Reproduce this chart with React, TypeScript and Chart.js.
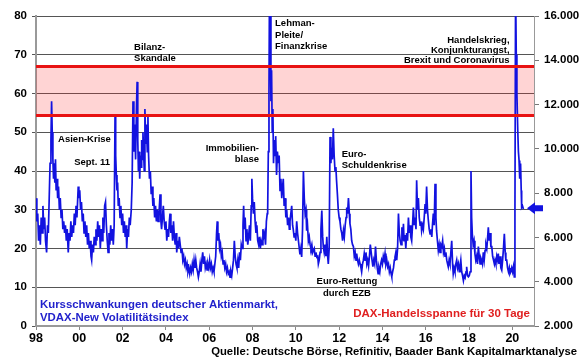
import { useEffect, useRef } from "react";
import { Chart, registerables } from "chart.js";
Chart.register(...registerables);

// VDAX-New readings [year, value]
const VDAX_1998_2002: [number, number][] = [
  [1998.0, 33], [1998.04, 27], [1998.08, 29], [1998.12, 22], [1998.16, 26], [1998.2, 21], [1998.24, 28], [1998.28, 24],
  [1998.32, 31], [1998.36, 25], [1998.4, 28], [1998.44, 22], [1998.49, 19], [1998.53, 26], [1998.57, 24], [1998.61, 33],
  [1998.65, 42], [1998.69, 48], [1998.72, 58], [1998.75, 50], [1998.78, 43], [1998.81, 38], [1998.84, 42], [1998.87, 37],
  [1998.9, 43], [1998.93, 35], [1998.97, 38], [1999.0, 33], [1999.04, 36], [1999.08, 30], [1999.12, 33], [1999.16, 28],
  [1999.2, 30], [1999.24, 25], [1999.28, 27], [1999.32, 24], [1999.36, 26], [1999.4, 22], [1999.44, 25], [1999.49, 19],
  [1999.53, 24], [1999.57, 22], [1999.61, 27], [1999.65, 23], [1999.69, 26], [1999.73, 24], [1999.77, 29], [1999.81, 26],
  [1999.85, 31], [1999.89, 28], [1999.95, 36], [1999.98, 33], [2000.02, 35], [2000.06, 30], [2000.1, 32], [2000.14, 27],
  [2000.18, 29], [2000.22, 24], [2000.26, 27], [2000.3, 23], [2000.34, 26], [2000.38, 21], [2000.42, 24], [2000.46, 20],
  [2000.5, 22], [2000.54, 18], [2000.57, 17], [2000.61, 21], [2000.65, 19], [2000.69, 23], [2000.73, 21], [2000.77, 25],
  [2000.81, 22], [2000.85, 27], [2000.89, 23], [2000.93, 26], [2000.97, 20], [2001.01, 25], [2001.05, 22], [2001.09, 28],
  [2001.13, 24], [2001.17, 31], [2001.21, 32], [2001.25, 26], [2001.29, 22], [2001.33, 19], [2001.37, 24], [2001.41, 21],
  [2001.45, 26], [2001.49, 22], [2001.53, 25], [2001.57, 21], [2001.61, 26], [2001.65, 54], [2001.68, 44], [2001.71, 39],
  [2001.74, 35], [2001.77, 37], [2001.8, 31], [2001.84, 33], [2001.88, 28], [2001.92, 31], [2001.96, 26], [2002.0, 29],
  [2002.04, 24], [2002.08, 27], [2002.12, 23], [2002.16, 26], [2002.19, 20], [2002.23, 25], [2002.27, 23], [2002.31, 28],
  [2002.35, 26], [2002.4, 30], [2002.44, 37], [2002.48, 58], [2002.52, 45], [2002.56, 52], [2002.6, 43], [2002.64, 56],
  [2002.67, 63], [2002.7, 48], [2002.73, 40], [2002.76, 45], [2002.79, 38], [2002.82, 44], [2002.85, 41], [2002.88, 48],
  [2002.91, 43], [2002.94, 50], [2002.97, 45],
];
const VDAX_2003_2008: [number, number][] = [
  [2003.0, 40], [2003.03, 56], [2003.07, 47], [2003.1, 52], [2003.14, 45], [2003.17, 54], [2003.2, 44], [2003.24, 38],
  [2003.28, 40], [2003.32, 34], [2003.36, 36], [2003.4, 31], [2003.44, 33], [2003.48, 28], [2003.52, 31], [2003.56, 27],
  [2003.6, 30], [2003.64, 27], [2003.68, 29], [2003.73, 34], [2003.77, 27], [2003.8, 25], [2003.84, 28], [2003.88, 31],
  [2003.92, 27], [2003.96, 25], [2004.0, 27], [2004.04, 22], [2004.08, 25], [2004.12, 23], [2004.16, 27], [2004.19, 29],
  [2004.23, 24], [2004.27, 26], [2004.31, 22], [2004.35, 27], [2004.39, 23], [2004.43, 21], [2004.47, 24], [2004.5, 19],
  [2004.54, 22], [2004.58, 20], [2004.62, 23], [2004.66, 21], [2004.7, 19], [2004.74, 20], [2004.78, 17], [2004.82, 18],
  [2004.86, 16], [2004.9, 17], [2004.94, 15], [2004.98, 16], [2005.02, 14], [2005.06, 15], [2005.1, 13.5], [2005.14, 15],
  [2005.18, 14], [2005.22, 16], [2005.26, 14.5], [2005.3, 17], [2005.34, 15], [2005.38, 17], [2005.42, 15], [2005.46, 14],
  [2005.5, 12.6], [2005.54, 14], [2005.58, 16], [2005.62, 14], [2005.66, 17], [2005.7, 19], [2005.74, 16], [2005.78, 18],
  [2005.82, 15], [2005.86, 16], [2005.9, 14.5], [2005.94, 16], [2005.98, 15], [2006.02, 17], [2006.06, 15], [2006.1, 16],
  [2006.14, 14], [2006.18, 15], [2006.22, 14], [2006.26, 16], [2006.3, 18], [2006.34, 24], [2006.37, 27], [2006.4, 22],
  [2006.44, 24], [2006.48, 20], [2006.52, 21], [2006.56, 18], [2006.6, 19], [2006.64, 16], [2006.68, 17], [2006.72, 15],
  [2006.76, 16], [2006.8, 14], [2006.84, 15], [2006.88, 13.5], [2006.92, 14], [2006.96, 12.6], [2007.0, 14], [2007.04, 13],
  [2007.08, 15], [2007.12, 17], [2007.16, 22], [2007.2, 18], [2007.24, 16], [2007.28, 15], [2007.32, 17], [2007.36, 15],
  [2007.4, 19], [2007.44, 17], [2007.48, 21], [2007.52, 20], [2007.56, 26], [2007.59, 31], [2007.62, 25], [2007.66, 28],
  [2007.7, 22], [2007.74, 25], [2007.78, 21], [2007.82, 23], [2007.86, 26], [2007.9, 22], [2007.94, 31], [2007.97, 38],
  [2008.0, 33], [2008.04, 29], [2008.08, 32], [2008.12, 27], [2008.16, 24], [2008.2, 26], [2008.24, 22], [2008.28, 21],
  [2008.32, 23], [2008.36, 20], [2008.4, 22], [2008.44, 21], [2008.48, 25], [2008.52, 23], [2008.56, 24], [2008.6, 21],
  [2008.64, 27], [2008.68, 29], [2008.7, 30], [2008.73, 45], [2008.76, 60], [2008.78, 83], [2008.8, 70], [2008.82, 80],
  [2008.85, 58], [2008.88, 66], [2008.91, 50], [2008.94, 56], [2008.97, 42],
];
const VDAX_2009_2014: [number, number][] = [
  [2009.0, 48], [2009.04, 44], [2009.07, 49], [2009.11, 39], [2009.15, 45], [2009.19, 42], [2009.23, 44], [2009.27, 35],
  [2009.31, 38], [2009.35, 33], [2009.39, 36], [2009.42, 38], [2009.46, 31], [2009.5, 33], [2009.54, 28], [2009.58, 30],
  [2009.62, 26], [2009.66, 28], [2009.7, 25], [2009.73, 27], [2009.77, 29], [2009.81, 31], [2009.85, 26], [2009.88, 25],
  [2009.92, 23], [2009.96, 24], [2010.0, 22], [2010.04, 27], [2010.08, 24], [2010.12, 22], [2010.16, 20], [2010.19, 18.5],
  [2010.23, 20], [2010.27, 17.8], [2010.31, 25], [2010.35, 40], [2010.39, 33], [2010.43, 29], [2010.47, 30], [2010.5, 24.6],
  [2010.54, 26], [2010.58, 22], [2010.62, 23], [2010.66, 21], [2010.7, 20], [2010.74, 21], [2010.78, 19], [2010.81, 19.5],
  [2010.85, 20], [2010.89, 18], [2010.93, 19], [2010.97, 17.8], [2011.01, 18], [2011.04, 16], [2011.08, 17], [2011.12, 19],
  [2011.16, 25], [2011.2, 29.8], [2011.24, 23], [2011.27, 20.5], [2011.31, 19], [2011.35, 21], [2011.39, 18], [2011.43, 23],
  [2011.47, 18], [2011.5, 16], [2011.54, 20], [2011.58, 48.8], [2011.62, 42], [2011.65, 46], [2011.69, 43], [2011.73, 51],
  [2011.77, 44], [2011.81, 40], [2011.85, 41], [2011.88, 37.6], [2011.92, 34], [2011.96, 30], [2012.0, 28], [2012.04, 27],
  [2012.08, 25], [2012.12, 24], [2012.16, 22], [2012.2, 24.6], [2012.24, 23], [2012.28, 26], [2012.32, 28], [2012.35, 30.6],
  [2012.39, 29], [2012.43, 33], [2012.47, 29], [2012.5, 26.4], [2012.54, 25], [2012.58, 22], [2012.62, 21], [2012.66, 20.5],
  [2012.7, 18], [2012.74, 19], [2012.78, 17], [2012.81, 18.7], [2012.85, 17], [2012.89, 16], [2012.93, 17], [2012.97, 16],
  [2013.01, 15], [2013.04, 14], [2013.08, 16], [2013.12, 17], [2013.16, 18.7], [2013.2, 17], [2013.24, 19], [2013.28, 16],
  [2013.32, 17], [2013.36, 15.5], [2013.4, 18], [2013.44, 21], [2013.48, 19], [2013.52, 17], [2013.56, 15.3], [2013.6, 17],
  [2013.64, 16], [2013.68, 20.5], [2013.72, 17], [2013.76, 15], [2013.8, 13.5], [2013.84, 15], [2013.88, 14], [2013.92, 16],
  [2013.96, 17], [2014.0, 16], [2014.04, 18], [2014.08, 17], [2014.12, 18.7], [2014.16, 16], [2014.2, 17], [2014.24, 15.3],
  [2014.28, 16], [2014.32, 14], [2014.36, 15], [2014.4, 13.5], [2014.43, 12.7], [2014.47, 14], [2014.51, 15], [2014.55, 17],
  [2014.58, 17.8], [2014.62, 19], [2014.66, 17], [2014.7, 20], [2014.74, 29], [2014.78, 24], [2014.82, 22], [2014.86, 21],
  [2014.9, 25.5], [2014.94, 22], [2014.97, 26.4],
];
const VDAX_2015_2020: [number, number][] = [
  [2015.0, 22], [2015.04, 23.5], [2015.08, 20], [2015.12, 24], [2015.16, 22], [2015.2, 28], [2015.24, 24], [2015.28, 26],
  [2015.31, 23], [2015.35, 22], [2015.39, 26], [2015.43, 30.6], [2015.47, 26], [2015.51, 28], [2015.55, 25], [2015.58, 37.6],
  [2015.62, 30], [2015.66, 33], [2015.7, 28], [2015.74, 26], [2015.78, 27], [2015.81, 24.6], [2015.85, 26], [2015.89, 25],
  [2015.93, 28], [2015.97, 31.5], [2016.0, 29], [2016.04, 36], [2016.08, 30], [2016.12, 27.3], [2016.16, 25], [2016.2, 23.8],
  [2016.24, 25], [2016.28, 23], [2016.31, 26], [2016.35, 29], [2016.39, 26], [2016.43, 36.7], [2016.47, 28], [2016.5, 24.6],
  [2016.54, 22], [2016.58, 19.5], [2016.62, 21], [2016.66, 19], [2016.7, 21], [2016.74, 20.5], [2016.78, 22], [2016.82, 19],
  [2016.86, 20], [2016.89, 18], [2016.93, 19], [2016.97, 17], [2017.01, 16], [2017.04, 15.3], [2017.08, 17], [2017.12, 16],
  [2017.16, 19], [2017.2, 22], [2017.24, 16], [2017.27, 13.5], [2017.31, 15], [2017.35, 14], [2017.39, 16], [2017.43, 17],
  [2017.47, 15], [2017.51, 16], [2017.55, 14], [2017.58, 15.3], [2017.62, 17], [2017.66, 14], [2017.7, 13], [2017.74, 11.7],
  [2017.78, 13], [2017.82, 12.5], [2017.86, 14], [2017.89, 15.3], [2017.93, 13], [2017.97, 12.7], [2018.01, 13], [2018.05, 14],
  [2018.09, 40], [2018.12, 28], [2018.15, 23.8], [2018.19, 21], [2018.23, 22], [2018.27, 18.7], [2018.31, 17], [2018.35, 18],
  [2018.39, 16], [2018.43, 20.5], [2018.47, 18], [2018.51, 16], [2018.55, 17.5], [2018.58, 17], [2018.62, 16], [2018.66, 19],
  [2018.7, 17], [2018.74, 19.5], [2018.78, 21], [2018.82, 20], [2018.86, 23], [2018.89, 25.5], [2018.93, 22], [2018.97, 24],
  [2019.01, 20.5], [2019.05, 20.5], [2019.09, 18], [2019.13, 17], [2019.17, 16], [2019.2, 17], [2019.24, 16], [2019.28, 18],
  [2019.32, 17], [2019.35, 18.7], [2019.39, 16], [2019.43, 18], [2019.47, 15], [2019.51, 14.4], [2019.55, 17], [2019.59, 20],
  [2019.63, 23.8], [2019.67, 19], [2019.7, 17], [2019.74, 17], [2019.78, 15], [2019.82, 14], [2019.86, 15], [2019.89, 13.5],
  [2019.93, 14], [2019.97, 15], [2020.01, 14], [2020.05, 15.3], [2020.09, 12.7], [2020.12, 30], [2020.15, 88], [2020.18, 70],
  [2020.21, 60], [2020.25, 50.5], [2020.28, 45], [2020.31, 42.7], [2020.34, 38], [2020.38, 41.9], [2020.41, 35], [2020.43, 30.6],
  [2020.47, 31], [2020.51, 30.2],
];

// DAX 30-day trading range band (left-axis units) and current-level arrow
const BAND_LOW = 54.3;
const BAND_HIGH = 67;
const X_RANGE = [1998, 2021];
const X_TICKS = [1998, 2000, 2002, 2004, 2006, 2008, 2010, 2012, 2014, 2016, 2018, 2020];
const ARROW_VALUE = 30.4;

const LEFT_TICKS = { min: 0, max: 80, step: 10 };
const RIGHT_TICKS = { min: 2000, max: 16000, step: 2000 };

const NOTES = [
  { lines: ["Asien-Krise"], x: 1999.02, y: 48.2, align: "left" },
  { lines: ["Sept. 11"], x: 2001.42, y: 42.3, align: "right" },
  { lines: ["Bilanz-", "Skandale"], x: 2002.53, y: 72.0, align: "left" },
  { lines: ["Immobilien-", "blase"], x: 2008.3, y: 45.9, align: "right" },
  { lines: ["Lehman-", "Pleite/", "Finanzkrise"], x: 2009.04, y: 78.0, align: "left" },
  { lines: ["Euro-", "Schuldenkrise"], x: 2012.12, y: 44.4, align: "left" },
  { lines: ["Euro-Rettung", "durch EZB"], x: 2012.36, y: 11.4, align: "center" },
  { lines: ["Handelskrieg,", "Konjunkturangst,", "Brexit und Coronavirus"], x: 2019.87, y: 73.6, align: "right" },
];
const LEGEND_BLUE = ["Kursschwankungen deutscher Aktienmarkt,", "VDAX-New Volatilitätsindex"];
const LEGEND_RED = "DAX-Handelsspanne für 30 Tage";
const SOURCE = "Quelle: Deutsche Börse, Refinitiv, Baader Bank Kapitalmarktanalyse";

const FONT = '"Liberation Sans", Arial, sans-serif';
const BLUE = "#1212E0";
const RED = "#E81212";

const fmtThousands = (v: number) => String(v).replace(/\B(?=(\d{3})+(?!\d))/g, ".");
const fmtYear = (v: number) => String(v % 100).padStart(2, "0");

const overlay = {
  id: "overlay",
  afterDraw(chart: any) {
    const { ctx, chartArea, scales } = chart;
    const xs = scales.x;
    const ys = scales.y;
    ctx.save();
    // x-axis year labels, placed through the x scale
    ctx.fillStyle = "#000";
    ctx.font = `bold 12.5px ${FONT}`;
    ctx.textAlign = "center";
    ctx.textBaseline = "middle";
    for (const t of X_TICKS) {
      ctx.fillText(fmtYear(t), xs.getPixelForValue(t), chartArea.bottom + 13);
    }
    // annotations
    ctx.font = `bold 9.5px ${FONT}`;
    for (const n of NOTES) {
      const px = xs.getPixelForValue(n.x);
      const py = ys.getPixelForValue(n.y);
      ctx.textAlign = n.align;
      const lh = n.lines.length === 3 && n.align === "right" ? 10 : 11.3;
      n.lines.forEach((l, i) => ctx.fillText(l, px, py + i * lh));
    }
    // legend texts
    ctx.font = `bold 11.4px ${FONT}`;
    ctx.fillStyle = "#2222CC";
    ctx.textAlign = "left";
    ctx.fillText(LEGEND_BLUE[0], chartArea.left + 4, chartArea.bottom - 21);
    ctx.fillText(LEGEND_BLUE[1], chartArea.left + 4, chartArea.bottom - 8);
    ctx.fillStyle = "#E02020";
    ctx.textAlign = "right";
    ctx.font = `bold 11.5px ${FONT}`;
    ctx.fillText(LEGEND_RED, chartArea.right - 4, chartArea.bottom - 12);
    // source
    ctx.fillStyle = "#000";
    ctx.font = `bold 11.3px ${FONT}`;
    ctx.textAlign = "right";
    ctx.fillText(SOURCE, chart.width - 3, chart.height - 7);
    // arrow at current level
    const ay = ys.getPixelForValue(ARROW_VALUE);
    const tip = chartArea.right - 7;
    ctx.fillStyle = BLUE;
    ctx.beginPath();
    ctx.moveTo(tip, ay);
    ctx.lineTo(tip + 8, ay - 6);
    ctx.lineTo(tip + 8, ay - 3);
    ctx.lineTo(tip + 16, ay - 3);
    ctx.lineTo(tip + 16, ay + 3);
    ctx.lineTo(tip + 8, ay + 3);
    ctx.lineTo(tip + 8, ay + 6);
    ctx.closePath();
    ctx.fill();
    ctx.restore();
  },
};

export default function App() {
  const ref = useRef<HTMLCanvasElement>(null);
  useEffect(() => {
    const series = [...VDAX_1998_2002, ...VDAX_2003_2008, ...VDAX_2009_2014, ...VDAX_2015_2020].map(([x, y]) => ({ x, y }));
    const chart = new Chart(ref.current!, {
      type: "line",
      data: {
        datasets: [
          {
            data: [{ x: X_RANGE[0], y: BAND_HIGH }, { x: X_RANGE[1], y: BAND_HIGH }],
            borderColor: RED,
            borderWidth: 3,
            pointRadius: 0,
            fill: "+1",
            backgroundColor: "rgba(255, 40, 40, 0.2)",
          },
          {
            data: [{ x: X_RANGE[0], y: BAND_LOW }, { x: X_RANGE[1], y: BAND_LOW }],
            borderColor: RED,
            borderWidth: 3,
            pointRadius: 0,
            fill: false,
          },
          {
            data: series,
            borderColor: BLUE,
            borderWidth: 1.7,
            pointRadius: 0,
            tension: 0,
            fill: false,
          },
        ],
      },
      options: {
        responsive: false,
        animation: false,
        layout: { padding: { top: 16, left: 0, right: 0, bottom: 0 } },
        plugins: {
          legend: { display: false },
          tooltip: { enabled: false },
          filler: { drawTime: "beforeDatasetsDraw" },
        } as any,
        scales: {
          x: {
            type: "linear",
            min: X_RANGE[0],
            max: X_RANGE[1],
            afterBuildTicks: (s: any) => {
              s.ticks = X_TICKS.map((value) => ({ value }));
            },
            afterFit: (s: any) => {
              s.height = 33;
            },
            ticks: { display: false, autoSkip: false },
            grid: { drawOnChartArea: false, tickLength: 4, color: "#888" },
            border: { color: "#999", width: 2 },
          },
          y: {
            position: "left",
            min: LEFT_TICKS.min,
            max: LEFT_TICKS.max,
            afterFit: (s: any) => {
              s.width = 36;
            },
            ticks: {
              stepSize: LEFT_TICKS.step,
              color: "#000",
              font: { family: FONT, size: 11.5, weight: "bold" },
              padding: 5,
            },
            grid: { color: "#555", lineWidth: 1, tickLength: 4 },
            border: { color: "#999", width: 2 },
          },
          y2: {
            position: "right",
            min: RIGHT_TICKS.min,
            max: RIGHT_TICKS.max,
            afterFit: (s: any) => {
              s.width = 46;
            },
            ticks: {
              stepSize: RIGHT_TICKS.step,
              color: "#000",
              font: { family: FONT, size: 11.5, weight: "bold" },
              padding: 5,
              callback: (v: any) => fmtThousands(Number(v)),
            },
            grid: { drawOnChartArea: false, tickLength: 5, color: "#777" },
            border: { color: "#999", width: 1 },
          },
        },
      } as any,
      plugins: [overlay],
    });
    return () => chart.destroy();
  }, []);
  return (
    <div style={{ position: "absolute", left: 0, top: 0, width: 580, height: 359, background: "#fff" }}>
      <canvas ref={ref} width={580} height={359} />
    </div>
  );
}
